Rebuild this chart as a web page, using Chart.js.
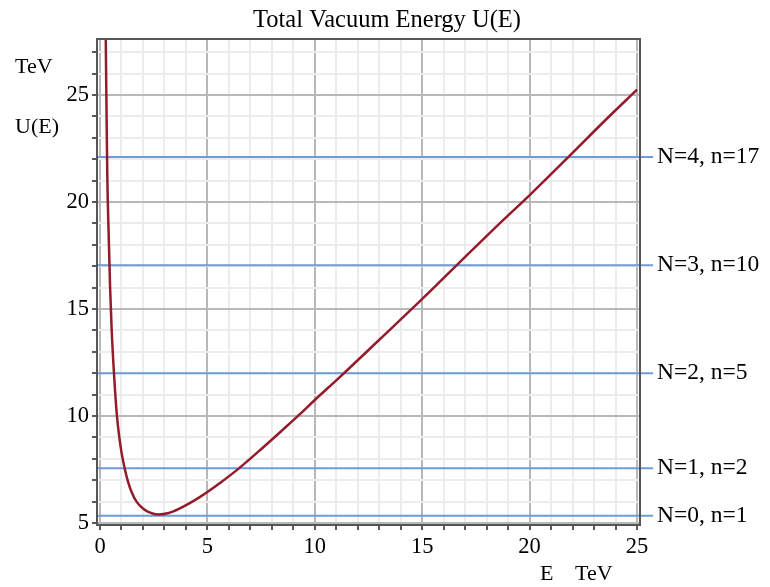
<!DOCTYPE html>
<html>
<head>
<meta charset="utf-8">
<script src="https://cdn.jsdelivr.net/npm/chart.js@4.4.1/dist/chart.umd.min.js"></script>
<style>
    html, body { margin: 0; padding: 0; background: #fff; }
    #wrap { width: 770px; height: 587px; }
</style>
</head>
<body>
<div id="wrap"><canvas id="VacuumChart" width="770" height="587"></canvas></div>
<script>
//curve U(E)
var energy = [0.25, 0.28, 0.3, 0.34, 0.4, 0.47, 0.54, 0.65, 0.78, 0.9, 1.0, 1.16, 1.3, 1.47, 1.7, 2.0, 2.3, 2.72, 3.2, 3.65, 4.2, 4.66, 5.05, 5.6, 6.44, 7.5, 8.5, 9.32, 10, 11.1, 13.04, 14.98, 16.61, 18.5, 20.03, 22, 23.5, 25];
var vacuumEnergy = [29.5, 26.5, 24.6, 21.2, 18.6, 16.0, 14.1, 12.0, 10.1, 9.0, 8.3, 7.5, 6.95, 6.45, 6.0, 5.68, 5.5, 5.4, 5.47, 5.65, 5.94, 6.22, 6.48, 6.88, 7.53, 8.45, 9.35, 10.1, 10.75, 11.76, 13.6, 15.45, 17.05, 18.9, 20.35, 22.3, 23.8, 25.25];

//levels
var levelValues = [5.34, 7.56, 12.0, 17.05, 22.1];
var levelLabels = ["N=0, n=1", "N=1, n=2", "N=2, n=5", "N=3, n=10", "N=4, n=17"];
var levelSpan = [-0.14, 25.75];

//ticks
var xTickValues = [];
for (var i = 0; i <= 25; i++) xTickValues.push(i);
var yTickValues = [];
for (var j = 5; j <= 27; j++) yTickValues.push(j);

var serif = "'Liberation Serif', 'DejaVu Serif', serif";
var curveColor = "#931b2a";
var levelColor = "#6f9bd6";

var datasets = [];
levelValues.forEach(function(v, k) {
    datasets.push({
        label: levelLabels[k],
        data: levelSpan.map(function(x) { return { x: x, y: v }; }),
        borderColor: levelColor,
        borderWidth: 2,
        pointRadius: 0,
        showLine: true,
        clip: false,
        order: 2
    });
});
datasets.push({
    label: "U(E)",
    data: energy.map(function(e, k) { return { x: e, y: vacuumEnergy[k] }; }),
    borderColor: curveColor,
    borderWidth: 2.5,
    pointRadius: 0,
    showLine: true,
    cubicInterpolationMode: "monotone",
    order: 1
});

function gridColor(ctx) {
    if (!ctx.tick) return "#ececec";
    return ctx.tick.value % 5 === 0 ? "#b8b8b8" : "#ececec";
}

//frame, labels and titles
var decorPlugin = {
    id: "decor",
    afterDatasetsDraw: function(chart) {
        var c = chart.ctx;
        var a = chart.chartArea;
        c.save();
        c.strokeStyle = "#555";
        c.lineWidth = 2;
        c.strokeRect(a.left, a.top, a.right - a.left, a.bottom - a.top);

        c.fillStyle = "#000";
        c.font = "23.5px " + serif;
        c.textBaseline = "middle";
        c.textAlign = "left";
        chart.data.datasets.forEach(function(ds, k) {
            if (k >= levelLabels.length) return;
            var pts = chart.getDatasetMeta(k).data;
            var last = pts[pts.length - 1];
            c.fillText(ds.label, last.x + 4, last.y);
        });

        c.font = "22px " + serif;
        c.textBaseline = "alphabetic";
        c.fillText("TeV", 15, 73);
        c.fillText("U(E)", 15, 133);
        c.fillText("E", 540, 580);
        c.fillText("TeV", 575, 580);

        c.font = "24.5px " + serif;
        c.textAlign = "center";
        c.fillText("Total Vacuum Energy U(E)", 387, 27);
        c.restore();
    }
};

new Chart("VacuumChart", {
    type: "scatter",
    data: { datasets: datasets },
    plugins: [decorPlugin],
    options: {
        responsive: false,
        animation: false,
        layout: { padding: { left: 0, top: 39, right: 130, bottom: 0 } },
        plugins: {
            legend: { display: false },
            tooltip: { enabled: false },
            title: { display: false }
        },
        scales: {
            x: {
                type: "linear",
                min: -0.14,
                max: 25.14,
                afterBuildTicks: function(scale) {
                    scale.ticks = xTickValues.map(function(v) { return { value: v }; });
                },
                afterFit: function(scale) { scale.height = 62; },
                ticks: {
                    autoSkip: false,
                    maxRotation: 0,
                    padding: 4,
                    color: "#000",
                    font: { family: serif, size: 22.5 },
                    callback: function(v) { return v % 5 === 0 ? String(v) : ""; }
                },
                grid: {
                    color: gridColor,
                    lineWidth: 2,
                    tickColor: "#222",
                    tickLength: 5,
                    tickWidth: 1.5
                },
                border: { display: false }
            },
            y: {
                type: "linear",
                min: 4.907,
                max: 27.62,
                afterBuildTicks: function(scale) {
                    scale.ticks = yTickValues.map(function(v) { return { value: v }; });
                },
                afterFit: function(scale) { scale.width = 97; },
                ticks: {
                    autoSkip: false,
                    padding: 3,
                    color: "#000",
                    font: { family: serif, size: 22.5 },
                    callback: function(v) { return v % 5 === 0 ? String(v) : ""; }
                },
                grid: {
                    color: gridColor,
                    lineWidth: 2,
                    tickColor: "#222",
                    tickLength: 5,
                    tickWidth: 1.5
                },
                border: { display: false }
            }
        }
    }
});
</script>
</body>
</html>
